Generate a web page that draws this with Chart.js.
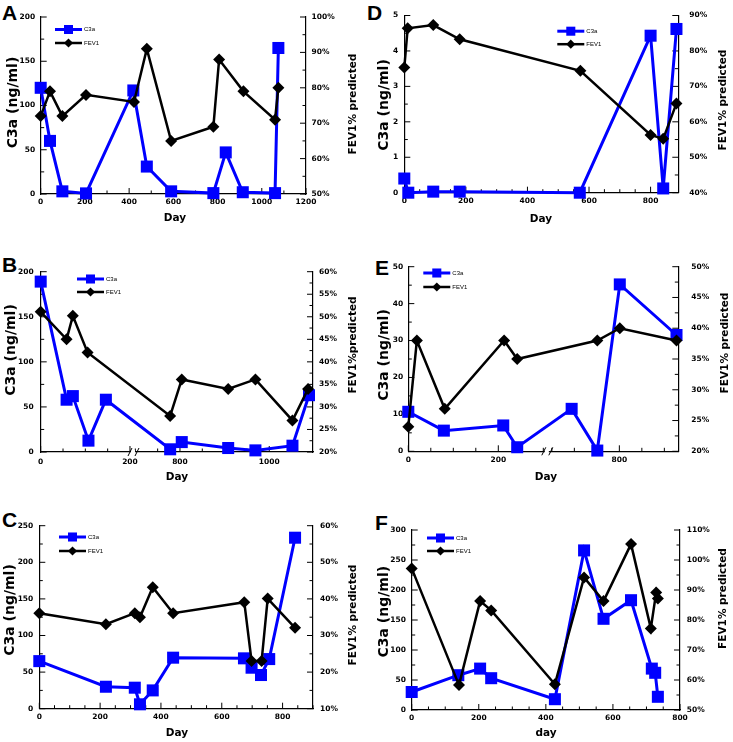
<!DOCTYPE html>
<html>
<head>
<meta charset="utf-8">
<script src="https://cdn.jsdelivr.net/npm/chart.js@4.4.1/dist/chart.umd.min.js"></script>
<style>
body { margin: 0; background: #fff; width: 733px; height: 742px; position: relative; overflow: hidden; }
canvas { position: absolute; }
.lbl { position: absolute; font: bold 21px 'Liberation Sans', Arial, sans-serif; line-height: 21px; color: #000; }
</style>
</head>
<body>
<div class="lbl" style="left:2px;top:2px">A</div>
<div class="lbl" style="left:367px;top:2px">D</div>
<div class="lbl" style="left:2px;top:254px">B</div>
<div class="lbl" style="left:375px;top:257px">E</div>
<div class="lbl" style="left:2px;top:509px">C</div>
<div class="lbl" style="left:375px;top:512px">F</div>
<canvas id="cA" width="366" height="232" style="left:0;top:0"></canvas>
<canvas id="cD" width="367" height="232" style="left:366px;top:0"></canvas>
<canvas id="cB" width="366" height="258" style="left:0;top:232px"></canvas>
<canvas id="cE" width="367" height="258" style="left:366px;top:232px"></canvas>
<canvas id="cC" width="366" height="252" style="left:0;top:490px"></canvas>
<canvas id="cF" width="367" height="252" style="left:366px;top:490px"></canvas>
<script>
// ---- data ----
// A
var dayA_c3a = [0, 42, 98, 205, 419, 480, 590, 781, 837, 914, 1060, 1075];
var c3aA     = [120, 60, 3, 0.7, 117, 31, 3, 1, 47, 2, 1, 165];
var dayA_fev = [0, 42, 98, 205, 422, 480, 590, 781, 807, 917, 1060, 1075];
var fevA     = [72, 79, 72, 78, 76, 91, 65, 69, 88, 79, 71, 80];
// D
var dayD_c3a = [0, 13, 94, 180, 570, 800, 841, 884];
var c3aD     = [0.4, 0, 0.03, 0.03, 0, 4.43, 0.12, 4.62];
var dayD_fev = [0, 11, 94, 180, 572, 800, 841, 884];
var fevD     = [75.3, 86.4, 87.3, 83.3, 74.4, 56.3, 55.2, 65.2];
// B (broken day axis)
var dayB_c3a = [0, 58, 72, 107, 146, 778, 804, 908, 969, 1052, 1089];
var c3aB     = [189, 58, 62, 12.6, 58, 3, 11, 4.4, 1.8, 7, 63];
var dayB_fev = [0, 58, 72, 105, 778, 804, 908, 969, 1052, 1087];
var fevB     = [51.1, 45, 50.2, 42.1, 28, 36.1, 34, 36.1, 27, 34];
// E (broken day axis)
var dayE_c3a = [0, 79, 211, 242, 694, 751, 801, 927];
var c3aE     = [10.7, 5.6, 7, 1.1, 11.5, 0.2, 45.2, 31.5];
var dayE_fev = [0, 19, 81, 213, 242, 751, 801, 927];
var fevE     = [24, 38, 26.9, 38, 35, 38, 40, 38];
// C
var dayC_c3a = [0, 219, 314, 331, 373, 440, 673, 698, 729, 756, 841];
var c3aC     = [65, 30, 28.7, 6, 25, 69.7, 68.8, 56, 46, 67.8, 233.6];
var dayC_fev = [0, 219, 314, 331, 373, 440, 674, 698, 731, 751, 841];
var fevC     = [36.1, 33.1, 36.1, 35, 43.2, 36.1, 39.1, 23, 23, 40.1, 32.1];
// F
var dayF_c3a = [0, 139, 204, 237, 427, 514, 572, 654, 716, 726, 734];
var c3aF     = [30, 58, 69, 53, 18, 266, 152, 183, 69, 62, 22];
var dayF_fev = [0, 141, 204, 237, 427, 514, 572, 654, 713, 729, 734];
var fevF     = [97.2, 58.3, 86.3, 83.2, 58.6, 94.2, 86.3, 105.3, 77.2, 89.2, 87.2];

// tick labels on the broken axes
var tickDaysB = [0, 50, 100, 150, 200, 700, 750, 800, 850, 900, 950, 1000, 1050];
var labelDaysB = [0, 200, 800, 1000];
var tickDaysE = [0, 50, 100, 150, 200, 250, 300, 650, 700, 750, 800, 850, 900];
var labelDaysE = [0, 200, 800];

var BLUE = '#0000ff';
var TICKFONT = { family: 'DejaVu Sans', weight: 'bold', size: 7.5 };

function range(min, max, step) {
  var out = [];
  for (var v = min; v <= max + 1e-9; v += step) out.push(Math.round(v * 1000) / 1000);
  return out;
}
function pts(xs, ys, f) {
  return xs.map(function (d, i) { return { x: f ? f(d) : d, y: ys[i] }; });
}
function isMult(v, m) {
  var r = v / m;
  return Math.abs(r - Math.round(r)) < 1e-6;
}

// inward tick marks, axis breaks, legend and titles
var deco = {
  id: 'deco',
  beforeDatasetsDraw: function (chart) {
    var o = chart.options.plugins.deco, ctx = chart.ctx, a = chart.chartArea;
    ctx.save();
    ctx.strokeStyle = '#000';
    ctx.lineWidth = 1;
    ['x', 'y', 'y1'].forEach(function (id) {
      var s = chart.scales[id];
      s.ticks.forEach(function (t) {
        var len = t.label !== '' ? 6 : 3.5;
        var p = s.getPixelForValue(t.value);
        ctx.beginPath();
        if (id === 'x') { ctx.moveTo(p, a.bottom); ctx.lineTo(p, a.bottom - len); }
        else if (id === 'y') { ctx.moveTo(a.left, p); ctx.lineTo(a.left + len, p); }
        else { ctx.moveTo(a.right, p); ctx.lineTo(a.right - len, p); }
        ctx.stroke();
      });
    });
    if (o.brk !== undefined) {
      var bx = chart.scales.x.getPixelForValue(o.brk), by = a.bottom;
      ctx.fillStyle = '#fff';
      ctx.fillRect(bx - 3, by - 2, 4, 4);
      ctx.beginPath();
      ctx.moveTo(bx - 6, by + 4); ctx.lineTo(bx - 2, by - 4);
      ctx.moveTo(bx + 1, by + 4); ctx.lineTo(bx + 5, by - 4);
      ctx.stroke();
    }
    ctx.restore();
  },
  afterDraw: function (chart) {
    var o = chart.options.plugins.deco, ctx = chart.ctx, a = chart.chartArea;
    var ox = o.box[0], oy = o.box[1];
    ctx.save();
    // legend
    var order = [chart.data.datasets[1], chart.data.datasets[0]];
    order.forEach(function (ds, i) {
      var lx = a.left + o.legend[0], ly = a.top + o.legend[1] + i * o.legend[2];
      ctx.strokeStyle = ds.borderColor;
      ctx.lineWidth = ds.borderWidth;
      ctx.beginPath(); ctx.moveTo(lx, ly); ctx.lineTo(lx + 27, ly); ctx.stroke();
      ctx.fillStyle = ds.backgroundColor;
      Chart.helpers.drawPoint(ctx, { pointStyle: ds.pointStyle, radius: ds.pointStyle === 'rect' ? 6.4 : 4.6, borderWidth: 0, rotation: 0 }, lx + 13.5, ly);
      ctx.fillStyle = '#000';
      ctx.font = "6px 'Liberation Sans Narrow', 'Liberation Sans', sans-serif";
      ctx.textAlign = 'left';
      ctx.textBaseline = 'middle';
      ctx.fillText(ds.label, lx + 29, ly);
    });
    // axis titles
    ctx.fillStyle = '#000';
    ctx.textAlign = 'center';
    ctx.textBaseline = 'middle';
    function vtext(txt, x, y, size) {
      ctx.save();
      ctx.translate(x - ox, y - oy);
      ctx.rotate(-Math.PI / 2);
      ctx.font = 'bold ' + size + "px 'DejaVu Sans', sans-serif";
      ctx.fillText(txt, 0, 0);
      ctx.restore();
    }
    vtext('C3a (ng/ml)', o.leftTitle[0], o.leftTitle[1], 14);
    vtext(o.rightText, o.rightTitle[0], o.rightTitle[1], 10.5);
    ctx.font = "bold 10.5px 'DejaVu Sans', sans-serif";
    ctx.fillText(o.xText, o.xTitle[0] - ox, o.xTitle[1] - oy);
    ctx.restore();
  }
};

function yAxis(pos, cfg, pad, width, fmt) {
  return {
    type: 'linear', position: pos, min: cfg.min, max: cfg.max,
    grid: { display: false, drawTicks: false },
    border: { display: true, color: '#000', width: 1.2 },
    ticks: {
      padding: pad, font: TICKFONT, color: '#000', autoSkip: false,
      callback: function (v) { return isMult(v, cfg.label) ? fmt(v) : ''; }
    },
    afterBuildTicks: function (s) {
      s.ticks = range(cfg.min, cfg.max, cfg.step).map(function (v) { return { value: v }; });
    },
    afterFit: function (s) { s.width = width; }
  };
}

function makePanel(id, p) {
  var box = p.box, area = p.area;
  var xScale = {
    type: 'linear', position: 'bottom', min: p.x.min, max: p.x.max,
    grid: { display: false, drawTicks: false },
    border: { display: true, color: '#000', width: 1.2 },
    ticks: {
      padding: p.padX, font: TICKFONT, color: '#000', autoSkip: false, maxRotation: 0,
      callback: p.x.callback || function (v) { return isMult(v, p.x.label) ? String(v) : ''; }
    },
    afterBuildTicks: function (s) {
      var vals = p.x.ticks || range(p.x.min, p.x.max, p.x.step);
      s.ticks = vals.map(function (v) { return { value: v }; });
    },
    afterFit: function (s) { s.height = box[1] + box[3] - area[3]; }
  };
  return new Chart(document.getElementById(id), {
    type: 'line',
    data: {
      datasets: [{
        label: 'FEV1', data: p.fev, yAxisID: 'y1',
        borderColor: '#000', backgroundColor: '#000', borderWidth: 2.5,
        pointStyle: 'rectRot', pointRadius: 6, pointBorderWidth: 0,
        order: 0, clip: false, tension: 0
      }, {
        label: 'C3a', data: p.c3a, yAxisID: 'y',
        borderColor: BLUE, backgroundColor: BLUE, borderWidth: 3,
        pointStyle: 'rect', pointRadius: 8.5, pointBorderWidth: 0,
        order: 1, clip: false, tension: 0
      }]
    },
    options: {
      responsive: false,
      animation: false,
      events: [],
      layout: { padding: { top: area[1] - box[1], left: 0, right: 0, bottom: 0 } },
      scales: {
        x: xScale,
        y: yAxis('left', p.y, p.padL, area[0] - box[0], function (v) { return String(v); }),
        y1: yAxis('right', p.y1, p.padR, box[0] + box[2] - area[2], function (v) { return v + '%'; })
      },
      plugins: {
        legend: { display: false },
        tooltip: { enabled: false },
        deco: {
          box: box, legend: p.legend, brk: p.brk,
          leftTitle: p.leftTitle, rightTitle: p.rightTitle, xTitle: p.xTitle,
          rightText: p.rightText || 'FEV1% predicted', xText: p.xText || 'Day'
        }
      }
    },
    plugins: [deco]
  });
}

function broken(offset, brk, labels) {
  return {
    toPos: function (d) { return d > brk ? d - offset : d; },
    label: function (p) {
      var d = Math.round(p > brk ? p + offset : p);
      return labels.indexOf(d) >= 0 ? String(d) : '';
    }
  };
}
var brB = broken(488, 209, labelDaysB);
var brE = broken(331, 310, labelDaysE);

makePanel('cA', {
  box: [0, 0, 366, 232], area: [40.7, 17, 306, 194],
  x: { min: 0, max: 1200, step: 100, label: 200 },
  y: { min: 0, max: 200, step: 25, label: 50 },
  y1: { min: 50, max: 100, step: 5, label: 10 },
  padL: 5.5, padR: 5.5, padX: 4,
  c3a: pts(dayA_c3a, c3aA), fev: pts(dayA_fev, fevA),
  legend: [14.3, 12.5, 13.5],
  leftTitle: [13.5, 102.5], rightTitle: [353, 104], xTitle: [175, 218.5]
});
makePanel('cD', {
  box: [366, 0, 367, 232], area: [404.3, 8.3, 678.3, 192.7],
  x: { min: 0, max: 890, step: 50, label: 200 },
  y: { min: 0, max: 5, step: 0.5, label: 1 },
  y1: { min: 40, max: 90, step: 5, label: 10 },
  padL: 6, padR: 11, padX: 3.5,
  c3a: pts(dayD_c3a, c3aD), fev: pts(dayD_fev, fevD),
  legend: [153, 15.7, 13],
  leftTitle: [384, 105], rightTitle: [723, 100], xTitle: [541, 219]
});
makePanel('cB', {
  box: [0, 232, 366, 258], area: [40.7, 271.7, 313, 452],
  x: { min: 0, max: 610, ticks: tickDaysB.map(brB.toPos), callback: brB.label },
  y: { min: 0, max: 200, step: 25, label: 50 },
  y1: { min: 20, max: 60, step: 2.5, label: 5 },
  padL: 7, padR: 6, padX: 5.5,
  c3a: pts(dayB_c3a, c3aB, brB.toPos), fev: pts(dayB_fev, fevB, brB.toPos),
  legend: [36.3, 7.3, 13], brk: 209,
  leftTitle: [11.7, 350], rightTitle: [353, 345], xTitle: [177, 477],
  rightText: 'FEV1%predicted'
});
makePanel('cE', {
  box: [366, 232, 367, 258], area: [408.3, 266.7, 678.3, 451.3],
  x: { min: 0, max: 600, ticks: tickDaysE.map(brE.toPos), callback: brE.label },
  y: { min: 0, max: 50, step: 5, label: 10 },
  y1: { min: 20, max: 50, step: 2.5, label: 5 },
  padL: 5, padR: 13, padX: 4.5,
  c3a: pts(dayE_c3a, c3aE, brE.toPos), fev: pts(dayE_fev, fevE, brE.toPos),
  legend: [15, 6.3, 14], brk: 310,
  leftTitle: [384, 355], rightTitle: [725, 343], xTitle: [546, 477]
});
makePanel('cC', {
  box: [0, 490, 366, 252], area: [39.3, 525.7, 313, 708.7],
  x: { min: 0, max: 900, step: 50, label: 200 },
  y: { min: 0, max: 250, step: 25, label: 50 },
  y1: { min: 10, max: 60, step: 5, label: 10 },
  padL: 6, padR: 7, padX: 3.5,
  c3a: pts(dayC_c3a, c3aC), fev: pts(dayC_fev, fevC),
  legend: [19.7, 11.3, 14],
  leftTitle: [10, 610], rightTitle: [353, 615], xTitle: [177, 733]
});
makePanel('cF', {
  box: [366, 490, 367, 252], area: [411.7, 530, 680, 710],
  x: { min: 0, max: 800, step: 50, label: 200 },
  y: { min: 0, max: 300, step: 25, label: 50 },
  y1: { min: 50, max: 110, step: 5, label: 10 },
  padL: 5.7, padR: 6.7, padX: 4,
  c3a: pts(dayF_c3a, c3aF), fev: pts(dayF_fev, fevF),
  legend: [15.3, 8, 13],
  leftTitle: [384, 611.7], rightTitle: [723, 598.5], xTitle: [546, 733],
  xText: 'day'
});
</script>
</body>
</html>
